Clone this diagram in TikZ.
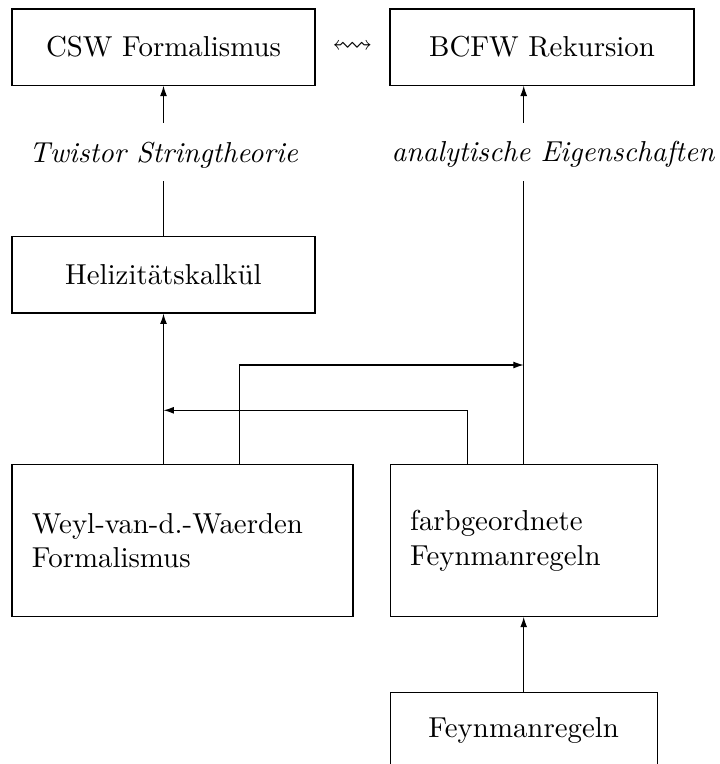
\documentclass[tikz,border=0pt]{standalone}
\usepackage{amssymb}
\usepackage{tikz}
\usetikzlibrary{arrows.meta, positioning}
\tikzstyle{box} = [rectangle, draw=black, minimum width=105pt, minimum height=26.4pt, inner sep=0pt, align=center]
\tikzstyle{bigbox} = [rectangle, draw=black, minimum height=52.5pt, inner sep=6.9pt, align=left]
\tikzstyle{lbl} = [inner sep=0pt, font=\itshape, text height=13.4pt, text depth=6.3pt]
\tikzstyle{arrow} = [-{Latex[length=3.6pt,width=2.4pt]}]

\begin{document}
\begin{tikzpicture}[x=0.3466pt, y=-0.3466pt, node distance=52.2pt]
  \useasboundingbox (0,0) rectangle (720,764);
  \node[box] (csw) at (163.5,47) {CSW Formalismus};
  \node[box, minimum width=105.4pt, right=25.6pt of csw] (bcfw) {BCFW Rekursion};
  \node[box, below=of csw] (heli) {Helizitätskalkül};
  \node[bigbox, text width=104.4pt, below=of heli.south west, anchor=north west] (weyl) {Weyl-van-d.-Waerden\\Formalismus};
  \node[bigbox, text width=78.7pt, right=12.5pt of weyl] (farb) {farbgeordnete\\Feynmanregeln};
  \node[box, minimum width=92.5pt, below=25.9pt of farb] (feyn) {Feynmanregeln};
  \node[lbl, above=19.2pt of heli] (twistor) {Twistor Stringtheorie};
  \node[lbl] (ana) at (553,151.5) {analytische Eigenschaften};
  \path (csw) -- node (squig) {$\leftrightsquigarrow$} (bcfw);
  \coordinate (hi) at (0,365);
  \coordinate (lo) at (0,410.3);

  \draw[arrow] (twistor) -- (csw);
  \draw (heli) -- (twistor);
  \draw[arrow] (weyl.north -| heli.south) -- (heli);
  \draw[arrow] (ana.north -| farb.north) -- (bcfw.south -| farb.north);
  \draw (farb.north) -- (ana.south -| farb.north);
  \draw[arrow] (feyn) -- (farb);
  \draw[arrow] ([xshift=19.6pt]weyl.north) |- (farb.north |- hi);
  \draw[arrow] ([xshift=-19.6pt]farb.north) |- (heli.south |- lo);
\end{tikzpicture}
\end{document}
